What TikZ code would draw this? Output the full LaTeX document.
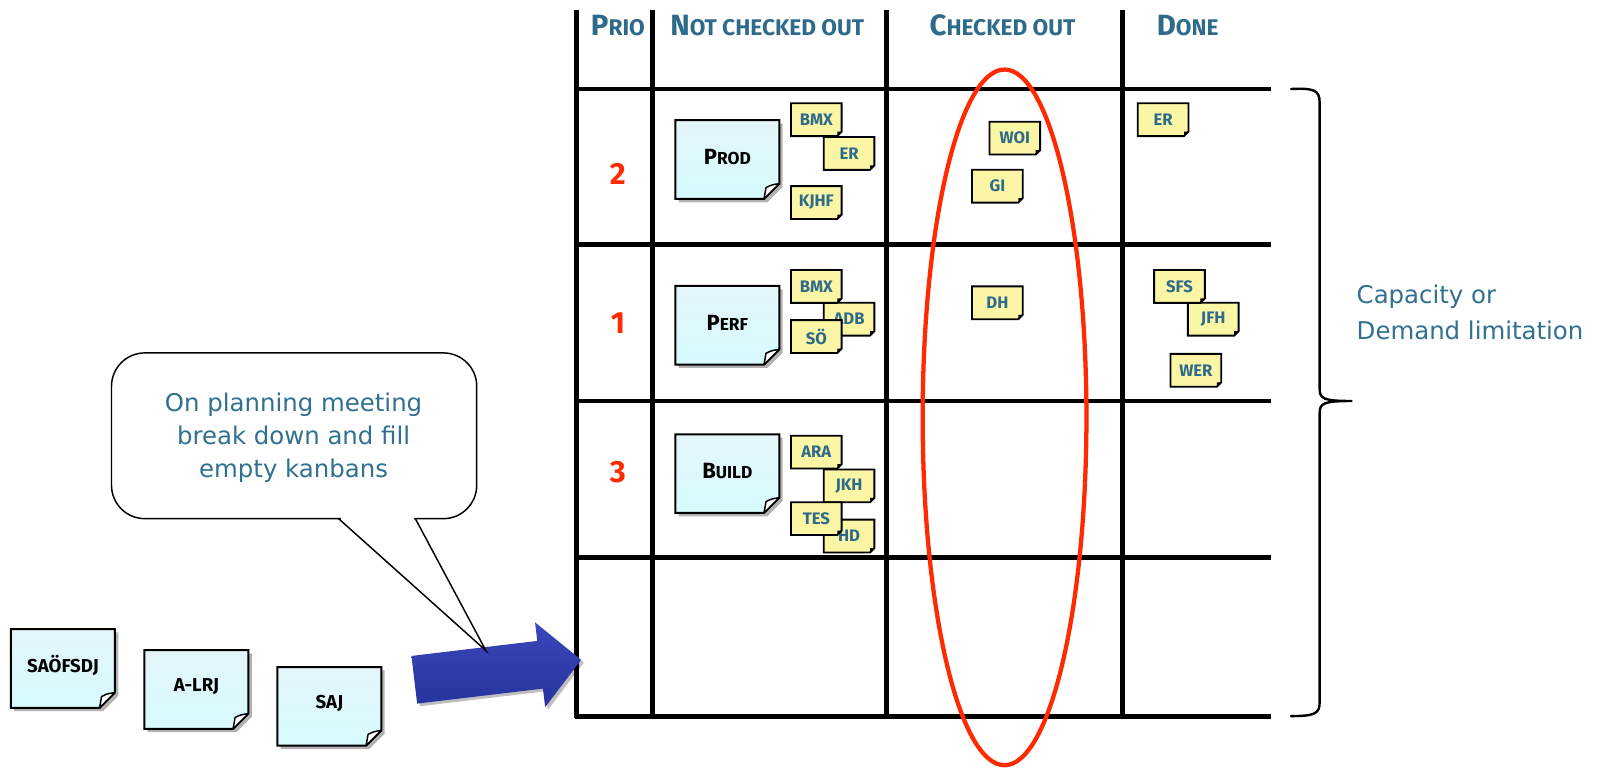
\documentclass[tikz,border=0pt]{standalone}
\usepackage{fontspec}
\setmainfont{DejaVu Sans}
\newfontfamily\handfont{Fira Sans}
\usetikzlibrary{shadows}
\definecolor{hdrblue}{HTML}{2E6B8A}
\definecolor{txtblue}{HTML}{31708F}
\definecolor{prred}{HTML}{FF2A00}
\definecolor{ynotefill}{HTML}{FAF6A6}
\definecolor{bnoteA}{HTML}{E4F5F9}
\definecolor{bnoteB}{HTML}{D6FBFF}
\definecolor{arrA}{HTML}{3A47BA}
\definecolor{arrB}{HTML}{27339E}
\newcommand\fsc[2]{{\fontsize{22}{22}\selectfont #1}{\fontsize{17}{17}\selectfont #2}}
\newcommand\nsc[2]{{\fontsize{16.5}{16.5}\selectfont #1}{\fontsize{13}{13}\selectfont #2}}
\newcommand\bnote[4]{%
  \coordinate (#1c) at (#2,#3);
  \path[bnoteshape] ([shift={(-39pt,29.5pt)}]#1c) -- ([shift={(39pt,29.5pt)}]#1c) -- ([shift={(39pt,-18pt)}]#1c) -- ([shift={(27.5pt,-29.5pt)}]#1c) -- ([shift={(-39pt,-29.5pt)}]#1c) -- cycle;
  \filldraw[fill=white, line width=1.1pt, line join=round] ([shift={(39pt,-18pt)}]#1c) .. controls ([shift={(33pt,-19pt)}]#1c) .. ([shift={(29pt,-21pt)}]#1c) -- ([shift={(27.5pt,-29.5pt)}]#1c) -- cycle;
  \node[bnotetext] (#1) at ([yshift=2pt]#1c) {#4};}
\newcommand\ynote[4]{%
  \coordinate (#1c) at (#2,#3);
  \filldraw[ynoteshape] ([shift={(-19pt,12.3pt)}]#1c) -- ([shift={(19pt,12.3pt)}]#1c) -- ([shift={(19pt,-9pt)}]#1c) -- ([shift={(15.7pt,-12.3pt)}]#1c) -- ([shift={(-19pt,-12.3pt)}]#1c) -- cycle;
  \fill ([shift={(19pt,-9pt)}]#1c) -- ([shift={(15.7pt,-12.3pt)}]#1c) -- ([shift={(15.7pt,-9pt)}]#1c) -- cycle;
  \node[ynotetext] (#1) at (#1c) {#4};}
\begin{document}
\begin{tikzpicture}[x=0.767pt,y=-0.767pt,
  grid/.style={line width=3.7pt, black},
  hdr/.style={font=\handfont\bfseries, text=hdrblue, inner sep=0pt},
  prio/.style={font=\handfont\bfseries\fontsize{23}{23}\selectfont, text=prred, inner sep=0pt},
  bnoteshape/.style={draw=black, line width=1.5pt, top color=bnoteA, bottom color=bnoteB,
     drop shadow={shadow xshift=2.5pt, shadow yshift=-2.5pt, opacity=0.3, fill=black}},
  bnotetext/.style={font=\handfont\bfseries, text=black, inner sep=0pt},
  ynoteshape/.style={draw=black, line width=1.4pt, fill=ynotefill},
  ynotetext/.style={font=\handfont\bfseries\fontsize{12.5}{12.5}\selectfont, text=hdrblue, inner sep=0pt},
  big/.style={font=\fontsize{18.3}{24.5}\selectfont, text=txtblue, align=center, inner sep=0pt},
  redline/.style={draw=prred, line width=3.2pt},
  bracestyle/.style={draw=black, line width=1.8pt, line cap=round},
  callout/.style={draw=black, line width=1.1pt}]
\useasboundingbox (0,0) rectangle (1568,751);
\fill[white] (0,0) rectangle (1568,751);
% grid
\foreach \x in {564,638,867,1097} \draw[grid] (\x,10) -- (\x,702);
\foreach \y in {87,239,392,545,700} \draw[grid] (562,\y) -- (1242,\y);
% headers
\node[hdr] (hprio) at (604,25) {\fsc{P}{RIO}};
\node[hdr] (hnot) at (750,25) {\fsc{N}{OT CHECKED OUT}};
\node[hdr] (hchk) at (980,25) {\fsc{C}{HECKED OUT}};
\node[hdr] (hdone) at (1161,25) {\fsc{D}{ONE}};
% priorities
\node[prio] (p2) at (604,170) {2};
\node[prio] (p1) at (604,316) {1};
\node[prio] (p3) at (604,462) {3};
% blue tickets
\bnote{prod}{711}{156}{\nsc{P}{ROD}}
\bnote{perf}{711}{318}{\nsc{P}{ERF}}
\bnote{build}{711}{463}{\nsc{B}{UILD}}
% yellow notes row 1
\ynote{bmxa}{798}{117}{BMX}
\ynote{era}{830}{150}{ER}
\ynote{kjhf}{798}{198}{KJHF}
% row 2
\ynote{adb}{830}{312}{ADB}
\ynote{bmxb}{798}{280}{BMX}
\ynote{so}{798}{329}{SÖ}
% row 3
\ynote{ara}{798}{442}{ARA}
\ynote{jkh}{830}{475}{JKH}
\ynote{hd}{830}{524}{HD}
\ynote{tes}{798}{507}{TES}
% checked out
\ynote{woi}{992}{135}{WOI}
\ynote{gi}{975}{182}{GI}
\ynote{dh}{975}{296}{DH}
% done
\ynote{erb}{1137}{117}{ER}
\ynote{jfh}{1186}{312}{JFH}
\ynote{sfs}{1153}{280}{SFS}
\ynote{wer}{1169}{362}{WER}
% red ellipse
\draw[redline] (982,408) ellipse [x radius=61.4pt, y radius=260.8pt];
% brace
\coordinate (bracetip) at (1322,392);
\draw[bracestyle] (1262,87) .. controls (1284,86) and (1290,88) .. (1290,100) -- (1290,380)
  .. controls (1290,390) and (1294,392) .. (bracetip)
  .. controls (1294,392) and (1290,394) .. (1290,404) -- (1290,687)
  .. controls (1290,698) and (1284,700) .. (1262,700);
\node[big, anchor=west, align=left, font=\fontsize{18.3}{27}\selectfont] (cap) at (1326,305) {Capacity or\\Demand limitation};
% backlog tickets
\bnote{saofsdj}{61.5}{653.5}{{\fontsize{14}{14}\selectfont SAÖFSDJ}}
\bnote{alrj}{192}{674}{{\fontsize{14}{14}\selectfont A-LRJ}}
\bnote{saj}{322}{690.5}{{\fontsize{14}{14}\selectfont SAJ}}
% big arrow
\coordinate (arrstart) at (405,664.5);
\begin{scope}[shift={(arrstart)}, rotate=6.8]
  \path[top color=arrA, bottom color=arrB, drop shadow={shadow xshift=2pt, shadow yshift=-2pt, opacity=0.25, fill=black}]
    (0,18pt) -- (95pt,18pt) -- (95pt,32pt) -- (126pt,0pt) -- (95pt,-32pt) -- (95pt,-18pt) -- (0,-18pt) -- cycle;
  \coordinate (arrtip) at (126pt,0pt);
\end{scope}
% callout
\draw[callout, fill=white, rounded corners=25pt] (109,345) rectangle (466,507);
\fill[white] (333,504) rectangle (405,510);
\coordinate (tailtip) at (475,636);
\draw[callout, line join=miter] (331,507) -- (tailtip) -- (406,507);
\node[big] (calltext) at (287,428) {On planning meeting\\break down and fill\\empty kanbans};
\end{tikzpicture}
\end{document}
